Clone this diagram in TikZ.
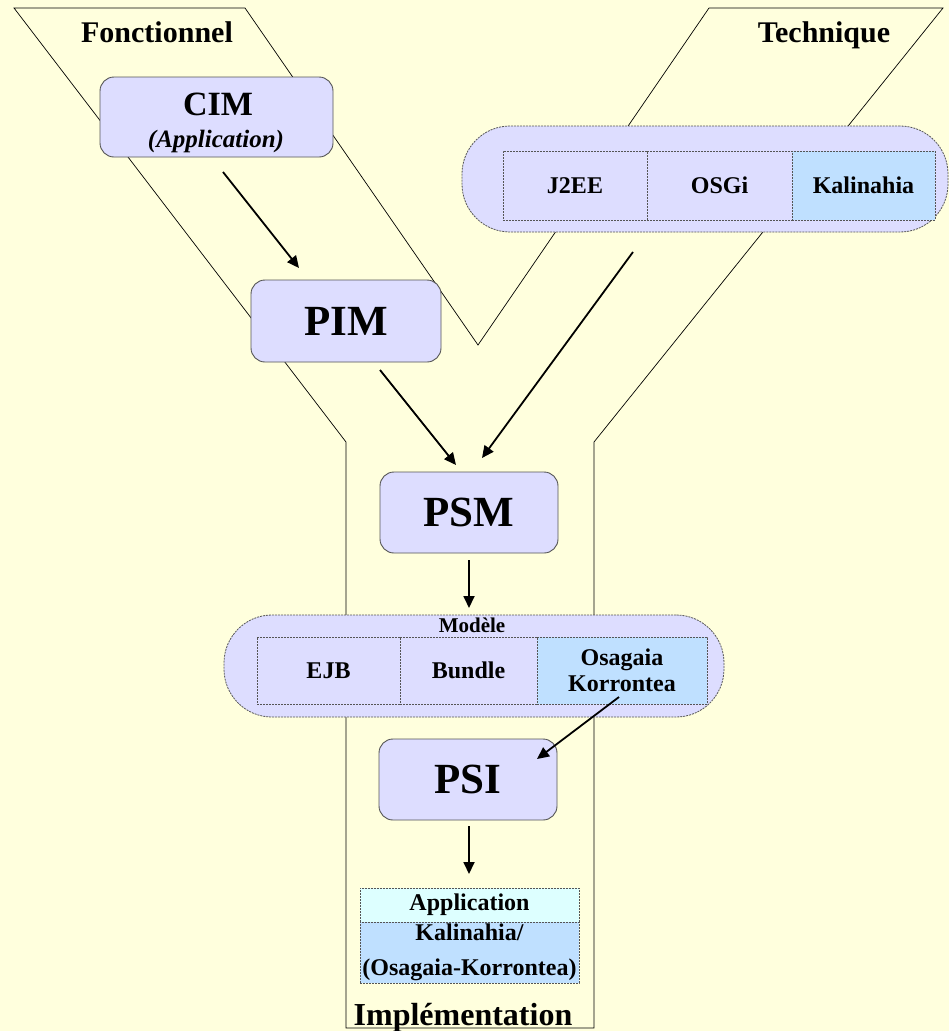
\documentclass[tikz,border=0pt]{standalone}
\usepackage{fontspec}
\setmainfont{Liberation Serif}
\usetikzlibrary{arrows.meta}
\definecolor{bg}{HTML}{FFFFDD}
\definecolor{lav}{HTML}{DDDDFF}
\definecolor{sky}{HTML}{BFE0FF}
\definecolor{pale}{HTML}{DDFFFF}
\definecolor{edge}{HTML}{555555}
\newcommand\setfs[1]{\fontsize{#1}{#1}\selectfont}
\begin{document}
\begin{tikzpicture}[x=1pt,y=-1pt,
  frame/.style={draw=black,line width=0.7pt},
  model/.style={draw=edge,fill=lav,rounded corners=14pt,line width=0.9pt,
    minimum width=178pt,minimum height=81pt,inner sep=0pt,font=\bfseries\setfs{43}},
  pill/.style={draw=edge,fill=lav,dash pattern=on 2pt off 1pt,line width=0.8pt,
    rounded corners=48pt,inner sep=0pt},
  cell/.style={draw=edge,dash pattern=on 2pt off 1pt,line width=0.8pt,inner sep=0pt,
    align=center,font=\bfseries\setfs{24}},
  lbl/.style={anchor=base,inner sep=0pt,font=\bfseries},
  arr/.style={line width=1.8pt,-{Triangle[length=12pt,width=11pt]}}]

% page and background
\useasboundingbox (0,0) rectangle (949,1031);
\fill[bg] (0,0) rectangle (949,1031);

% the Y-shaped frame
\draw[frame] (14,8) -- (245,8) -- (478,345) -- (709,8) -- (943,8)
  -- (594,442) -- (594,1028) -- (346,1028) -- (346,442) -- cycle;

% branch titles
\node[lbl,font=\bfseries\setfs{30}] (fonc) at (157,42) {Fonctionnel};
\node[lbl,font=\bfseries\setfs{30}] (tech) at (824,42) {Technique};
\node[lbl,font=\bfseries\setfs{32}] (impl) at (463,1025) {Implémentation};

% CIM
\node[model,minimum width=233pt,minimum height=80pt] (cim) at (216.5,117) {};
\node[lbl,font=\bfseries\setfs{34}] (cimt) at (218,115) {CIM};
\node[lbl,font=\bfseries\itshape\setfs{25}] (cima) at (216,147) {(Application)};

% PIM, PSM, PSI
\node[model,minimum width=190pt,minimum height=82pt] (pim) at (346,321) {PIM};
\node[model] (psm) at (469,512.5) {PSM};
\node[model] (psi) at (468,779.5) {PSI};

% technical platforms
\node[pill,minimum width=486pt,minimum height=106pt] (techpill) at (705,179) {};
\node[cell,minimum width=144pt,minimum height=69pt] (j2ee) at (575,185.5) {J2EE};
\node[cell,minimum width=145pt,minimum height=69pt] (osgi) at (719.5,185.5) {OSGi};
\node[cell,fill=sky,minimum width=143pt,minimum height=69pt] (kali) at (863.5,185.5) {Kalinahia};

% component models
\node[pill,minimum width=500pt,minimum height=102pt] (modpill) at (474,666) {};
\node[lbl,font=\bfseries\setfs{21}] (modt) at (472,632) {Modèle};
\node[cell,minimum width=143pt,minimum height=67pt] (ejb) at (328.5,670.5) {EJB};
\node[cell,minimum width=137pt,minimum height=67pt] (bundle) at (468.5,670.5) {Bundle};
\node[cell,fill=sky,minimum width=170pt,minimum height=67pt,
  font=\bfseries\fontsize{24}{26}\selectfont] (osa) at (622,670.5) {Osagaia\\Korrontea};

% implementation stack
\node[cell,fill=pale,minimum width=219pt,minimum height=34pt] (app) at (469.5,905) {Application};
\node[cell,fill=sky,minimum width=219pt,minimum height=61pt,
  font=\bfseries\fontsize{24}{35}\selectfont] (rt) at (469.5,952.5) {Kalinahia/\\(Osagaia-Korrontea)};

% arrow end points
\coordinate (a1s) at (223,172);  \coordinate (a1e) at (299,268);
\coordinate (a2s) at (380,370);  \coordinate (a2e) at (456,465);
\coordinate (a3s) at (633,252);  \coordinate (a3e) at (482,458);
\coordinate (a4s) at (469,560);  \coordinate (a4e) at (469,608);
\coordinate (a5s) at (619,697);  \coordinate (a5e) at (537,759);
\coordinate (a6s) at (469,826);  \coordinate (a6e) at (469,874);

\draw[arr] (a1s) -- (a1e);
\draw[arr] (a2s) -- (a2e);
\draw[arr] (a3s) -- (a3e);
\draw[arr] (a4s) -- (a4e);
\draw[arr] (a5s) -- (a5e);
\draw[arr] (a6s) -- (a6e);
\end{tikzpicture}
\end{document}
